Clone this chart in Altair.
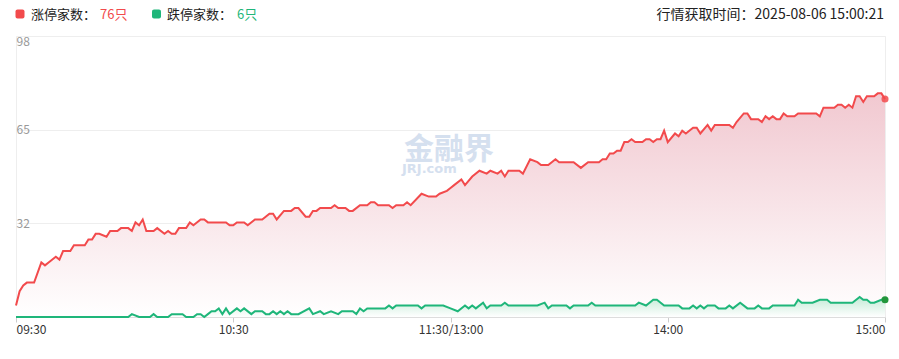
import altair as alt
import pandas as pd

# ---- data ----
# minutes since 09:30 (trading minutes, 11:30 and 13:00 share minute 120)
RED_MINUTE = [0, 1, 2, 3, 5, 7, 8, 9, 11, 12, 13, 15, 16, 19, 20, 21, 22, 23, 25, 26,
              28, 29, 31, 32, 33, 34, 35, 36, 38, 39, 41, 42, 43, 44, 45, 47, 48, 49, 51, 52,
              53, 58, 59, 60, 61, 63, 64, 66, 68, 70, 71, 72, 74, 76, 77, 78, 80, 81, 82, 83,
              84, 87, 88, 89, 91, 92, 93, 95, 97, 98, 99, 100, 103, 104, 105, 107, 108, 109, 112, 114,
              116, 117, 119, 120, 121, 123, 124, 126, 128, 130, 131, 133, 134, 135, 136, 139, 140, 142, 144, 145,
              147, 149, 150, 154, 156, 158, 161, 162, 163, 164, 165, 166, 167, 168, 169, 170, 171, 173, 174, 175,
              176, 177, 178, 179, 180, 182, 183, 184, 185, 187, 188, 189, 191, 192, 193, 197, 198, 199, 201, 202,
              203, 205, 206, 207, 208, 209, 210, 211, 212, 213, 215, 216, 221, 222, 223, 226, 227, 228, 229, 230,
              231, 232, 233, 234, 235, 237, 238, 239, 240]
RED_COUNT = [4, 9, 11, 12, 12, 19, 18, 19, 21, 20, 23, 23, 25, 25, 27, 27, 29, 29, 28, 30,
             30, 31, 31, 30, 33, 32, 34, 30, 30, 31, 29, 30, 29, 29, 31, 31, 33, 32, 34, 34,
             33, 33, 32, 32, 33, 33, 32, 34, 34, 36, 36, 34, 37, 37, 38, 38, 35, 35, 37, 37,
             38, 38, 39, 38, 38, 37, 37, 39, 39, 40, 40, 39, 39, 38, 39, 39, 40, 39, 43, 42,
             42, 43, 44, 45, 46, 48, 46, 49, 51, 50, 51, 50, 51, 49, 51, 51, 50, 55, 54, 53,
             53, 55, 54, 54, 52, 54, 54, 55, 55, 57, 57, 58, 58, 61, 61, 62, 61, 61, 62, 62,
             61, 62, 62, 65, 61, 64, 63, 65, 64, 66, 66, 64, 67, 65, 67, 67, 66, 68, 71, 71,
             69, 69, 68, 70, 69, 70, 69, 69, 71, 70, 70, 71, 71, 70, 73, 73, 74, 74, 73, 74,
             73, 77, 77, 75, 77, 77, 78, 78, 76]

GREEN_MINUTE = [0, 31, 32, 34, 37, 38, 39, 42, 43, 46, 47, 49, 50, 51, 52, 53, 54, 55, 56, 57,
                58, 59, 61, 62, 63, 65, 66, 68, 69, 70, 71, 72, 73, 74, 75, 76, 78, 81, 82, 84,
                85, 87, 89, 90, 93, 94, 95, 96, 97, 102, 103, 104, 105, 111, 112, 113, 118, 120, 122, 124,
                125, 126, 127, 129, 130, 131, 134, 135, 136, 144, 146, 147, 148, 152, 153, 154, 158, 159, 160, 171,
                172, 174, 176, 177, 179, 183, 184, 186, 187, 188, 189, 190, 191, 193, 194, 196, 197, 198, 200, 202,
                204, 205, 206, 208, 209, 215, 216, 217, 220, 222, 224, 225, 231, 233, 234, 235, 236, 237, 239, 240]
GREEN_COUNT = [0, 0, 1, 0, 0, 1, 0, 0, 1, 1, 0, 0, 1, 1, 0, 1, 2, 2, 3, 1,
               3, 1, 3, 2, 3, 1, 2, 2, 1, 1, 2, 1, 2, 1, 2, 1, 1, 3, 1, 2,
               1, 2, 1, 2, 2, 1, 3, 2, 3, 3, 4, 3, 4, 4, 3, 4, 4, 3, 2, 4,
               3, 4, 3, 5, 3, 4, 4, 5, 4, 4, 5, 3, 4, 4, 3, 4, 4, 5, 4, 4,
               5, 4, 6, 6, 4, 4, 3, 3, 4, 3, 4, 3, 4, 4, 3, 3, 4, 3, 5, 3,
               3, 4, 3, 3, 4, 4, 6, 5, 5, 6, 6, 5, 5, 7, 6, 6, 5, 5, 6, 6]

X_TICKS = [0, 60, 120, 180, 240]
X_LABELS = ["09:30", "10:30", "11:30/13:00", "14:00", "15:00"]
Y_TICKS = [0, 32.667, 65.333, 98]
Y_DOMAIN = [0, 98]

UP_LABEL, UP_VALUE = "涨停家数：", "76只"
DOWN_LABEL, DOWN_VALUE = "跌停家数：", "6只"
TIME_TEXT = "行情获取时间：2025-08-06 15:00:21"
WATERMARK = "金融界"
WATERMARK_SUB = "JRJ.com"

RED = "#f24a4c"
GREEN = "#1fb67a"
FONT = "Noto Sans CJK SC"
WM_COLOR = "#d5e0ef"

red_df = pd.DataFrame({"m": RED_MINUTE, "v": RED_COUNT})
green_df = pd.DataFrame({"m": GREEN_MINUTE, "v": GREEN_COUNT})
red_end = pd.DataFrame({"m": RED_MINUTE[-1:], "v": RED_COUNT[-1:]})
green_end = pd.DataFrame({"m": GREEN_MINUTE[-1:], "v": GREEN_COUNT[-1:]})

label_expr = " : ".join(f"datum.value == {t} ? '{l}'" for t, l in zip(X_TICKS, X_LABELS)) + " : ''"

x_enc = alt.X(
    "m:Q",
    scale=alt.Scale(domain=[X_TICKS[0], X_TICKS[-1]], nice=False, zero=False),
    axis=alt.Axis(values=X_TICKS, labelExpr=label_expr, grid=False, title=None,
                  tickSize=5, tickColor="#cccccc", domainColor="#dddddd",
                  labelFlush=True, labelColor="#333333", labelFontSize=12,
                  labelFont=FONT, labelPadding=2),
)
y_enc = alt.Y(
    "v:Q",
    scale=alt.Scale(domain=Y_DOMAIN, nice=False, zero=True),
    axis=alt.Axis(values=Y_TICKS, labelExpr="floor(datum.value)", title=None,
                  ticks=False, tickSize=0, domain=False, grid=True, gridColor="#eeeeee",
                  labelAlign="left", labelPadding=0, labelFlush=True,
                  labelColor="#999999", labelFontSize=12, labelFont=FONT),
)

red_fill = alt.Gradient(gradient="linear", x1=0, x2=0, y1=0, y2=1,
                        stops=[alt.GradientStop(color="#f1c8d0", offset=0),
                               alt.GradientStop(color="#ffffff", offset=1)])
green_fill = alt.Gradient(gradient="linear", x1=0, x2=0, y1=0, y2=1,
                          stops=[alt.GradientStop(color="#c3ead6", offset=0),
                                 alt.GradientStop(color="#ffffff", offset=1)])

red_area = alt.Chart(red_df).mark_area(color=red_fill).encode(x=x_enc, y=y_enc)
green_area = alt.Chart(green_df).mark_area(color=green_fill).encode(x=x_enc, y=y_enc)
red_line = alt.Chart(red_df).mark_line(color=RED, strokeWidth=2).encode(x=x_enc, y=y_enc)
green_line = alt.Chart(green_df).mark_line(color=GREEN, strokeWidth=2).encode(x=x_enc, y=y_enc)
red_dot = alt.Chart(red_end).mark_circle(color=RED, size=50, opacity=0.85).encode(x=x_enc, y=y_enc)
green_dot = alt.Chart(green_end).mark_circle(color="#23963c", size=50, opacity=1).encode(x=x_enc, y=y_enc)


def txt(s, x, y, color, size=13, align="left", weight="normal", font=FONT, opacity=1.0):
    return alt.Chart(pd.DataFrame({"t": [s]})).mark_text(
        align=align, baseline="middle", fontSize=size, font=font, color=color,
        fontWeight=weight, opacity=opacity
    ).encode(text="t:N", x=alt.value(x), y=alt.value(y))


def square(x, color):
    return alt.Chart(pd.DataFrame({"k": [0]})).mark_rect(color=color, cornerRadius=2).encode(
        x=alt.value(x), x2=alt.value(x + 9), y=alt.value(-26.5), y2=alt.value(-17.5))


LEG_Y = -21

layers = [
    red_area, green_area,
    txt(WATERMARK, 433, 114, WM_COLOR, size=30, align="center", weight="bold"),
    txt(WATERMARK_SUB, 386, 133, WM_COLOR, size=13, weight="bold", font="DejaVu Sans"),
    red_line, green_line, red_dot, green_dot,
    square(-0.5, RED), txt(UP_LABEL, 15, LEG_Y, "#222222"), txt(UP_VALUE, 84, LEG_Y, RED),
    square(136, GREEN), txt(DOWN_LABEL, 151, LEG_Y, "#222222"), txt(DOWN_VALUE, 221, LEG_Y, GREEN),
    txt(TIME_TEXT, 868, LEG_Y, "#222222", size=14, align="right"),
]

chart = alt.layer(*layers).properties(
    width=869, height=281,
    autosize=alt.AutoSizeParams(type="none"),
    padding={"left": 8, "top": 28, "right": 6, "bottom": 34},
).configure_view(stroke="#eeeeee")

chart.save("out.html", embed_options={"renderer": "svg", "actions": False})
